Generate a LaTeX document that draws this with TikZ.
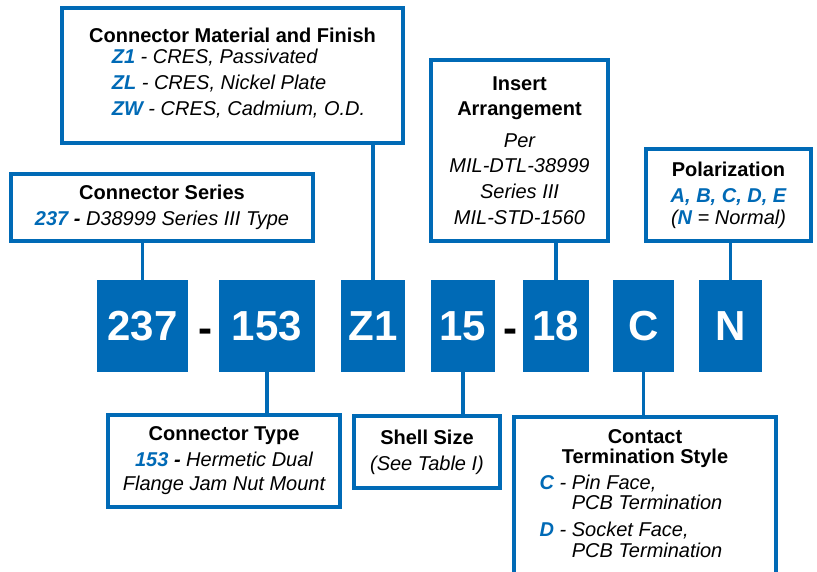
\documentclass[tikz,border=0pt]{standalone}
\usepackage{fontspec}
\setmainfont{Liberation Sans}
\usetikzlibrary{positioning}
\definecolor{partblue}{RGB}{0,106,182}
\newcommand{\hl}[1]{\textcolor{partblue}{\bfseries #1}}
\newcommand{\hd}[1]{{\upshape\bfseries #1}}

\begin{document}
\begin{tikzpicture}[x=1pt,y=-1pt,
    code/.style={fill=partblue,text=white,font=\fontsize{42}{42}\selectfont\bfseries,minimum height=92pt,inner sep=0pt},
    sep/.style={anchor=base,inner sep=0pt,font=\fontsize{42}{42}\selectfont\bfseries},
    infobox/.style={draw=partblue,line width=3.5pt,fill=white,align=center,inner sep=0pt,font=\fontsize{20}{26}\selectfont\itshape},
    link/.style={draw=partblue,line width=3.5pt}]
                \useasboundingbox (0,0) rectangle (817,571);
                \clip (0,0) rectangle (817,571);
                \node[code,minimum width=91pt] (c237) at (142.5,326) {237};
                \node[sep] (d1) at (205,342) {-};
                \node[code,minimum width=96pt] (c153) at (267,326) {153};
                \node[code,minimum width=64pt] (cz1) at (373,326) {Z1};
                \node[code,minimum width=64pt] (c15) at (463,326) {15};
                \node[sep] (d2) at (510,342) {-};
                \node[code,minimum width=66pt] (c18) at (556,326) {18};
                \node[code,minimum width=61pt] (cc) at (643.5,326) {C};
                \node[code,minimum width=63pt] (cn) at (730.5,326) {N};
                \node[infobox,minimum width=341pt,minimum height=135pt] (mat) at (232.5,75.5)
                    {\hd{Connector Material and Finish}\\[2pt]
                     \begin{tabular}{@{\hspace{12pt}}l@{}}
                     \hl{Z1} - CRES, Passivated\\
                     \hl{ZL} - CRES, Nickel Plate\\
                     \hl{ZW} - CRES, Cadmium, O.D.
                     \end{tabular}};
                \node[infobox,minimum width=302pt,minimum height=67pt] (ser) at (162,207.5)
                    {\hd{Connector Series}\\ \hl{237} {\bfseries -} D38999 Series III Type};
                \node[infobox,minimum width=177pt,minimum height=181pt] (ins) at (519.5,150.5)
                    {\hd{Insert}\\[-1pt] \hd{Arrangement}\\[6pt] Per\\[-1pt] MIL-DTL-38999\\ Series III\\ MIL-STD-1560};
                \node[infobox,minimum width=165pt,minimum height=92pt] (pol) at (728.5,195)
                    {\hd{Polarization}\\ \hl{A, B, C, D, E}\\[-4pt] (\hl{N} = Normal)};
                \node[infobox,minimum width=232pt,minimum height=92pt] (typ) at (224,461)
                    {\hd{Connector Type}\\ \hl{153} {\bfseries -} Hermetic Dual\\[-2pt] Flange Jam Nut Mount};
                \node[infobox,minimum width=146pt,minimum height=72pt] (shl) at (427,452)
                    {\hd{Shell Size}\\ (See Table I)};
                \node[infobox,minimum width=262pt,minimum height=185pt,anchor=north] (ctb) at (645,415) {};
                \node[below=14pt of ctb.north,anchor=north,align=center,inner sep=0pt,
                      font=\fontsize{20}{20.5}\selectfont\itshape] (ctbtext)
                    {\hd{Contact}\\ \hd{Termination Style}\\[6pt]
                     \begin{tabular}{@{}l@{ }l@{\hspace{28pt}}}
                     \hl{C} - & Pin Face,\\
                     & PCB Termination\\[6pt]
                     \hl{D} - & Socket Face,\\
                     & PCB Termination
                     \end{tabular}};
                \draw[link] (c237.north) -- (c237.north |- ser.south);
                \draw[link] (cz1.north) -- (cz1.north |- mat.south);
                \draw[link] (c18.north) -- (c18.north |- ins.south);
                \draw[link] (cn.north) -- (cn.north |- pol.south);
                \draw[link] (c153.south) -- (c153.south |- typ.north);
                \draw[link] (c15.south) -- (c15.south |- shl.north);
                \draw[link] (cc.south) -- (cc.south |- ctb.north);
            \end{tikzpicture}
\end{document}
